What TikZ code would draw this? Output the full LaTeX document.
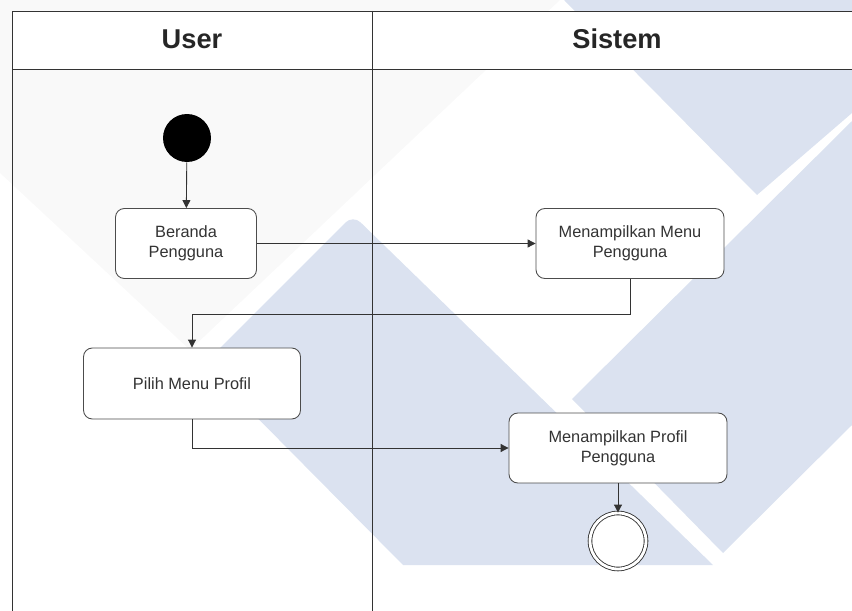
\documentclass[tikz,border=0pt]{standalone}
\usepackage{fontspec}
\setmainfont{Liberation Sans}
\usetikzlibrary{arrows.meta}
\definecolor{wmblue}{RGB}{219,226,240}
\definecolor{wmgray}{RGB}{249,249,249}
\begin{document}
\begin{tikzpicture}[x=0.02cm,y=-0.02cm]
\tikzstyle{act} = [draw=black!70,line width=0.5pt,fill=white,rounded corners=5pt,align=center,inner sep=0pt,font=\fontsize{9.3}{11.3}\selectfont,text=black!80] %activity
\tikzstyle{de} = [-{Triangle[length=4.5pt,width=4.5pt]},draw=black!80,line width=0.5pt] %directed edge
\tikzstyle{lane} = [draw=black!80,line width=0.5pt] %swimlane line
\tikzstyle{hd} = [font=\fontsize{15.5}{18}\selectfont\bfseries,text=black!85] %lane header
\useasboundingbox(0,0)rectangle(852,611);
\clip(0,0)rectangle(852,611);
% watermark
\fill[wmgray](0,0)--(0,173)--(190,350)--(560,0)--cycle;
\fill[wmblue](564,0)--(852,0)--(852,113)--(757,195)--cycle;
\fill[wmblue](852,121)--(572,399)--(723,553)--(852,425)--cycle;
\fill[wmblue](204,364)[rounded corners=6pt]--(353,215)[sharp corners]--(713,565)--(403,565)--cycle;
% lanes
\fill[white](12,11)rectangle(852,69);
\draw[lane](852,11)--(12,11)--(12,611);
\draw[lane](12,69)--(852,69);
\draw[lane](372,11)--(372,611);
\node[hd](huser)at(192,39){User};
\node[hd](hsis)at(617,39){Sistem};
% activities
\node[circle,fill=black,minimum size=0.96cm,inner sep=0pt](abeg)at(187,138){};
\node[act,minimum width=2.82cm,minimum height=1.4cm](aber)at(186,243.5){Beranda\\Pengguna};
\node[act,minimum width=3.76cm,minimum height=1.4cm](amenu)at(630,243.5){Menampilkan Menu\\Pengguna};
\node[act,minimum width=4.34cm,minimum height=1.42cm](apilih)at(192,383.5){Pilih Menu Profil};
\node[act,minimum width=4.36cm,minimum height=1.4cm](aprof)at(618,448){Menampilkan Profil\\Pengguna};
\node[circle,draw=black!80,line width=0.5pt,double,double distance=1.6pt,fill=white,minimum size=1.12cm,inner sep=0pt](aend)at(618,541){};
\draw[de](abeg)--(aber);
\draw[de](aber)--(amenu);
\draw[de](amenu.south)--++(0,36)-|(apilih.north);
\draw[de](apilih.south)|-(aprof.west);
\draw[de](aprof)--(aend);
\end{tikzpicture}
\end{document}
